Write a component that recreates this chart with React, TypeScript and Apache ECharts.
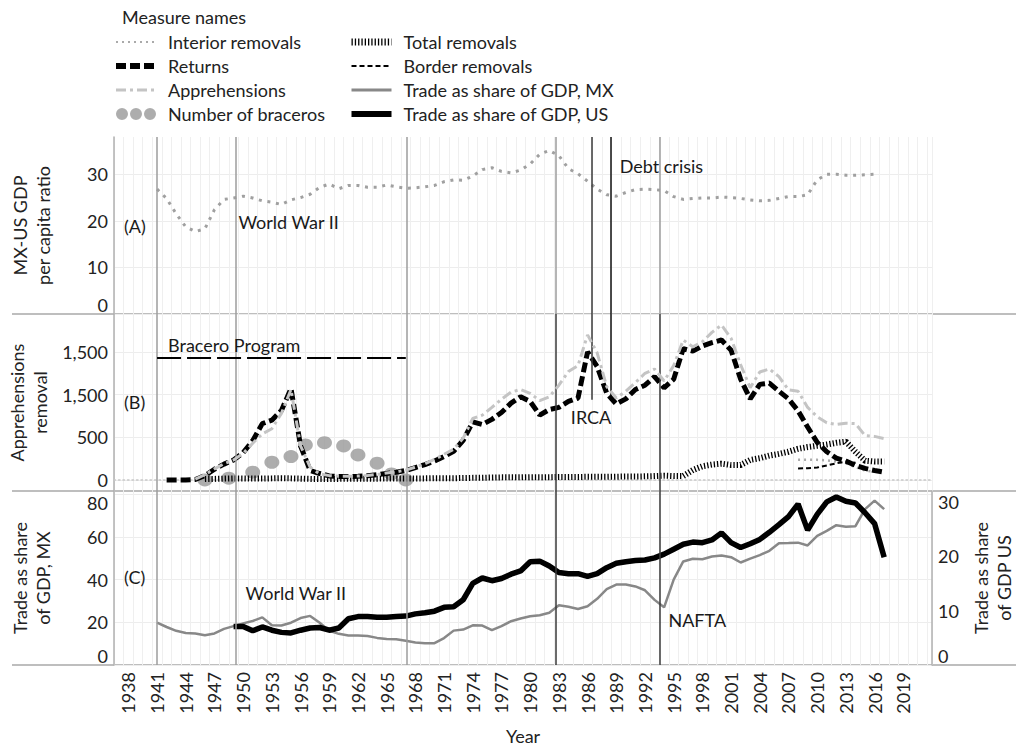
import React, { useEffect, useRef } from "react";
import * as echarts from "echarts";

const FONT = 'Lato, "Open Sans", sans-serif';

// ---------- axis ticks ----------
const tickYears = [1938, 1941, 1944, 1947, 1950, 1953, 1956, 1959, 1962, 1965, 1968, 1971, 1974, 1977, 1980, 1983, 1986, 1989, 1992, 1995, 1998, 2001, 2004, 2007, 2010, 2013, 2016, 2019];
const ticksA = [0, 10, 20, 30];
const ticksB = [0, 500, 1000, 1500];
const tickLabelsB = ["0", "500", "1,500", "1,500"];
const ticksCLeft = [0, 20, 40, 60, 80];
const ticksCRight = [0, 10, 20, 30];

// ---------- panel A: MX-US GDP per capita ratio (from 1941) ----------
const gdpStart = 1941;
const gdpRatio = [26.8, 24.8, 21.5, 18.7, 17.7, 18.3, 22.4, 24.6, 24.9, 25.3, 24.9, 24.3, 24.0, 23.5, 24.5, 25.0, 25.7, 27.2, 27.9, 26.9, 27.6, 27.6, 27.2, 27.2, 27.7, 27.3, 27.0, 27.1, 27.3, 27.6, 28.4, 28.8, 28.7, 29.6, 31.0, 31.4, 30.6, 30.3, 30.9, 32.2, 34.3, 35.1, 34.0, 31.2, 30.1, 28.5, 26.8, 25.6, 25.3, 26.1, 26.7, 26.8, 26.7, 26.5, 25.2, 24.6, 24.8, 24.9, 24.9, 25.1, 25.0, 24.8, 24.5, 24.3, 24.4, 24.8, 25.2, 25.2, 25.6, 28.8, 30.0, 30.0, 29.8, 29.8, 29.9, 30.0];

// ---------- panel B (thousands) ----------
const returnsStart = 1942;
const returns = [0, 0, 0, 5, 50, 125, 185, 234, 320, 460, 660, 700, 815, 1070, 400, 110, 75, 47, 39, 39, 42, 50, 62, 75, 90, 110, 145, 180, 220, 275, 335, 465, 680, 650, 710, 790, 900, 975, 920, 760, 825, 850, 920, 960, 1500, 1330, 1016, 890, 950, 1060, 1110, 1210, 1080, 1180, 1540, 1510, 1570, 1610, 1640, 1520, 1180, 950, 1120, 1135, 1040, 950, 810, 620, 440, 330, 255, 220, 170, 135, 110, 90];

const apprStart = 1945;
const apprehensions = [10, 60, 130, 190, 234, 310, 430, 540, 600, 780, 1060, 400, 150, 70, 50, 42, 42, 45, 52, 64, 80, 95, 115, 150, 190, 240, 300, 360, 490, 720, 760, 850, 945, 1030, 1060, 1015, 930, 975, 1110, 1270, 1340, 1700, 1490, 1094, 960, 1040, 1140, 1250, 1300, 1160, 1340, 1640, 1560, 1620, 1730, 1815, 1660, 1350, 1080, 1265, 1300, 1210, 1055, 1040, 850, 740, 670, 650, 665, 660, 520, 510, 485];

const totalStart = 1946;
const totalRemovals = [10, 12, 15, 18, 18, 16, 16, 18, 20, 18, 15, 12, 10, 10, 12, 14, 15, 15, 15, 16, 17, 18, 18, 18, 20, 20, 20, 22, 24, 25, 28, 30, 30, 30, 32, 32, 32, 34, 34, 35, 36, 36, 36, 38, 40, 40, 42, 45, 50, 45, 45, 115, 160, 180, 190, 175, 175, 234, 255, 285, 305, 330, 365, 385, 400, 415, 435, 449, 330, 225, 215, 215];

const borderStart = 2008;
const borderRemovals = [135, 138, 145, 170, 195, 215, 200];

const interiorStart = 2008;
const interiorRemovals = [235, 235, 235, 230, 215, 195, 150, 110, 95];

const braceroYears = [1946, 1948.5, 1951, 1953, 1955, 1956.5, 1958.5, 1960.5, 1962, 1964, 1965.5, 1967];
const braceros = [0, 20, 90, 207, 273, 410, 437, 398, 293, 196, 70, 0];

// ---------- panel C ----------
const tradeMXStart = 1941;
const tradeMX = [19.9, 17.8, 16.0, 15.0, 14.8, 13.9, 14.8, 16.9, 18.2, 19.5, 20.6, 22.3, 18.6, 18.5, 19.8, 22.0, 23.0, 19.8, 16.0, 14.6, 13.8, 13.8, 13.6, 12.7, 12.2, 12.1, 11.4, 10.5, 10.2, 10.2, 12.6, 16.1, 16.6, 18.6, 18.5, 16.3, 18.2, 20.5, 21.8, 22.8, 23.3, 24.5, 28.0, 27.3, 26.2, 27.5, 31.0, 35.5, 37.7, 37.7, 36.8, 35.0, 30.5, 27.0, 40.0, 48.5, 49.8, 49.5, 50.8, 51.3, 50.5, 48.0, 49.8, 51.5, 53.5, 57.0, 57.1, 57.3, 56.0, 60.5, 62.8, 65.5, 64.8, 65.0, 73.0, 77.0, 73.0];

const tradeUSStart = 1949;
const tradeUS = [7.1, 7.1, 6.3, 7.0, 6.4, 6.0, 5.9, 6.4, 6.8, 6.9, 6.4, 6.8, 8.5, 8.9, 8.9, 8.8, 8.8, 8.9, 9.0, 9.4, 9.6, 9.9, 10.6, 10.7, 12.0, 15.0, 16.0, 15.5, 15.9, 16.7, 17.3, 19.0, 19.1, 18.2, 17.0, 16.8, 16.8, 16.3, 16.8, 17.9, 18.7, 19.0, 19.2, 19.3, 19.7, 20.4, 21.3, 22.2, 22.6, 22.5, 23.0, 24.3, 22.5, 21.6, 22.3, 23.1, 24.4, 25.8, 27.3, 29.6, 24.8, 27.7, 30.0, 30.9, 30.1, 29.8, 28.0, 26.0, 19.8];

// ---------- events (vertical reference lines, years) ----------
const eventWW2Start = 1941;
const eventWW2Label = 1949.25;
const eventBraceroEnd = 1967.1;
const eventDebt = 1982.7;
const eventIRCA = 1986.4;
const eventDebtLabel = 1988.45;
const eventNAFTA = 1993.5;

const GRAY = "#9c9c9c";
const DARK = "#3a3a3a";
const BLACK = "#111111";

function zip(start: number, values: number[]) {
  return values.map((v, i) => [start + i, v]);
}

function vline(x: number, color: string) {
  return { xAxis: x, lineStyle: { color, width: 1.5, type: "solid" } };
}

function note(text: string, x: number, y: number) {
  return {
    coord: [x, y],
    value: text,
    symbol: "circle",
    symbolSize: 1,
    itemStyle: { color: "rgba(0,0,0,0)" },
    label: {
      show: true,
      position: "right",
      distance: 0,
      formatter: text,
      color: "#1a1a1a",
      fontSize: 18,
      fontFamily: FONT,
    },
  };
}

const markLineBase = {
  silent: true,
  symbol: ["none", "none"],
  label: { show: false },
  emphasis: { disabled: true },
  animation: false,
};

const hiddenSymbol = { opacity: 0 };

function App() {
  const ref = useRef<HTMLDivElement>(null);

  useEffect(() => {
    document.body.style.margin = "0";
    if (!ref.current) return;
    const chart = echarts.init(ref.current, null, { renderer: "svg" });

    const xMin = 1936.5;
    const xMax = 2022;
    const splitLine = { show: true, lineStyle: { color: "#efefef", width: 1 } };

    const xAxisBase = (gridIndex: number) => ({
      type: "value",
      gridIndex,
      min: xMin,
      max: xMax,
      interval: 1,
      axisLine: { show: false },
      axisTick: { show: false },
      axisLabel: { show: false },
      splitLine,
    });

    const yLabel = {
      fontSize: 18,
      color: "#222",
      fontFamily: FONT,
      margin: 6,
    };

    const yName = {
      nameLocation: "middle",
      nameRotate: 90,
      nameTextStyle: { fontSize: 18, lineHeight: 23, color: "#222", fontFamily: FONT },
    };

    const legendBase = {
      top: 28,
      orient: "vertical",
      itemWidth: 40,
      itemHeight: 14,
      itemGap: 6,
      selectedMode: false,
      textStyle: { fontSize: 18, color: "#222", fontFamily: FONT, padding: [0, 0, 0, 7] },
    };

    const gridBase = { left: 114, right: 84, outerBoundsMode: "none", containLabel: false };

    const option: any = {
      animation: false,
      textStyle: { fontFamily: FONT },
      title: {
        text: "Measure names",
        left: 117,
        top: 3,
        textStyle: { fontSize: 18, fontWeight: "normal", color: "#222", fontFamily: FONT },
      },
      legend: [
        {
          ...legendBase,
          left: 108,
          data: [
            { name: "Interior removals", itemStyle: hiddenSymbol, lineStyle: { color: "#aaaaaa", width: 2, type: [2, 4] } },
            { name: "Returns", itemStyle: hiddenSymbol, lineStyle: { color: "#000", width: 6, type: [10, 4] } },
            { name: "Apprehensions", itemStyle: hiddenSymbol, lineStyle: { color: "#c4c4c4", width: 3, type: [10, 4, 3, 4] } },
            {
              name: "Number of braceros",
              icon: "path://M0 6a6 6 0 1 0 12 0a6 6 0 1 0-12 0zM14 6a6 6 0 1 0 12 0a6 6 0 1 0-12 0zM28 6a6 6 0 1 0 12 0a6 6 0 1 0-12 0z",
              itemStyle: { color: "#999999" },
            },
          ],
        },
        {
          ...legendBase,
          left: 343,
          data: [
            { name: "Total removals", itemStyle: hiddenSymbol, lineStyle: { color: "#000", width: 7, type: [1.3, 2] } },
            { name: "Border removals", itemStyle: hiddenSymbol, lineStyle: { color: "#000", width: 2, type: [5, 3] } },
            { name: "Trade as share of GDP, MX", itemStyle: hiddenSymbol, lineStyle: { color: "#888", width: 3, type: "solid" } },
            { name: "Trade as share of GDP, US", itemStyle: hiddenSymbol, lineStyle: { color: "#000", width: 6, type: "solid" } },
          ],
        },
      ],
      grid: [
        { ...gridBase, top: 137, height: 177 },
        { ...gridBase, top: 314, height: 177 },
        { ...gridBase, top: 491, height: 174 },
      ],
      xAxis: [
        xAxisBase(0),
        {
          ...xAxisBase(1),
          axisLine: { show: true, onZero: true, lineStyle: { color: "#c8c8c8", width: 1.5, type: [1.5, 3] } },
        },
        {
          ...xAxisBase(2),
          axisLabel: {
            show: true,
            customValues: tickYears,
            formatter: (v: number) => String(v),
            rotate: 90,
            fontSize: 18,
            color: "#222",
            fontFamily: FONT,
            margin: 7,
          },
          name: "Year",
          nameLocation: "middle",
          nameGap: 62,
          nameTextStyle: { fontSize: 18, color: "#222", fontFamily: FONT },
        },
      ],
      yAxis: [
        {
          type: "value",
          gridIndex: 0,
          min: 0,
          max: 38,
          axisLine: { show: true, lineStyle: { color: "#b0b0b0", width: 1.5 } },
          axisTick: { show: false, customValues: ticksA },
          axisLabel: { ...yLabel, customValues: ticksA, verticalAlignMinLabel: "bottom" },
          splitLine: { show: true, lineStyle: { color: "#ededed" } },
          name: "MX-US GDP\nper capita ratio",
          nameGap: 60,
          ...yName,
        },
        {
          type: "value",
          gridIndex: 1,
          min: -130,
          max: 1945,
          axisLine: { show: true, lineStyle: { color: "#b0b0b0", width: 1.5 } },
          axisTick: { show: false, customValues: ticksB },
          axisLabel: {
            ...yLabel,
            customValues: ticksB,
            formatter: (v: number) => tickLabelsB[ticksB.indexOf(v)] ?? String(v),
          },
          splitLine: { show: true, lineStyle: { color: "#ededed" } },
          name: "Apprehensions\nremoval",
          nameGap: 60,
          ...yName,
        },
        {
          type: "value",
          gridIndex: 2,
          min: 0,
          max: 81.5,
          axisLine: { show: true, lineStyle: { color: "#b0b0b0", width: 1.5 } },
          axisTick: { show: false, customValues: ticksCLeft },
          axisLabel: { ...yLabel, customValues: ticksCLeft, verticalAlignMinLabel: "bottom", verticalAlignMaxLabel: "top" },
          splitLine: { show: true, lineStyle: { color: "#ededed" } },
          name: "Trade as share\nof GDP, MX",
          nameGap: 60,
          ...yName,
        },
        {
          type: "value",
          gridIndex: 2,
          position: "right",
          min: 0,
          max: 32,
          axisLine: { show: true, lineStyle: { color: "#b0b0b0", width: 1.5 } },
          axisTick: { show: false, customValues: ticksCRight },
          axisLabel: { ...yLabel, customValues: ticksCRight, verticalAlignMinLabel: "bottom" },
          splitLine: { show: false },
          name: "Trade as share\nof GDP US",
          nameGap: 14,
          ...yName,
        },
      ],
      graphic: [
        { type: "line", shape: { x1: 12, y1: 314, x2: 1016, y2: 314 }, style: { stroke: "#a8a8a8", lineWidth: 1.5 }, silent: true },
        { type: "line", shape: { x1: 12, y1: 491, x2: 1016, y2: 491 }, style: { stroke: "#a8a8a8", lineWidth: 1.5 }, silent: true },
        { type: "line", shape: { x1: 12, y1: 665, x2: 1016, y2: 665 }, style: { stroke: "#a8a8a8", lineWidth: 1.5 }, silent: true },
      ],
      series: [
        {
          name: "MX-US GDP per capita ratio",
          type: "line",
          xAxisIndex: 0,
          yAxisIndex: 0,
          symbol: "none",
          data: zip(gdpStart, gdpRatio),
          lineStyle: { color: "#a0a0a0", width: 3, type: [3, 5.7] },
          markLine: {
            ...markLineBase,
            data: [
              vline(eventWW2Start, GRAY),
              vline(eventWW2Label, GRAY),
              vline(eventBraceroEnd, GRAY),
              vline(eventDebt, GRAY),
              vline(eventIRCA, DARK),
              vline(eventDebtLabel, BLACK),
              vline(eventNAFTA, GRAY),
            ],
          },
          markPoint: {
            silent: true,
            data: [
              note("(A)", 1937.5, 18.9),
              note("World War II", 1949.45, 19.7),
              note("Debt crisis", 1989.3, 31.8),
            ],
          },
        },
        {
          name: "Number of braceros",
          type: "scatter",
          xAxisIndex: 1,
          yAxisIndex: 1,
          symbol: "circle",
          symbolSize: [15, 13],
          itemStyle: { color: "#999999" },
          data: braceroYears.map((y, i) => [y, braceros[i]]),
          z: 1,
        },
        {
          name: "Interior removals",
          type: "line",
          xAxisIndex: 1,
          yAxisIndex: 1,
          symbol: "none",
          data: zip(interiorStart, interiorRemovals),
          lineStyle: { color: "#aaaaaa", width: 2.5, type: [2, 4] },
          z: 2,
        },
        {
          name: "Total removals",
          type: "line",
          xAxisIndex: 1,
          yAxisIndex: 1,
          symbol: "none",
          data: zip(totalStart, totalRemovals),
          lineStyle: { color: "#000", width: 6, type: [1.3, 2] },
          z: 3,
        },
        {
          name: "Border removals",
          type: "line",
          xAxisIndex: 1,
          yAxisIndex: 1,
          symbol: "none",
          data: zip(borderStart, borderRemovals),
          lineStyle: { color: "#000", width: 2, type: [5, 3] },
          z: 3,
        },
        {
          name: "Returns",
          type: "line",
          xAxisIndex: 1,
          yAxisIndex: 1,
          symbol: "none",
          data: zip(returnsStart, returns),
          lineStyle: { color: "#000", width: 5, type: [10, 4] },
          z: 4,
          markLine: {
            ...markLineBase,
            data: [
              vline(eventWW2Start, GRAY),
              vline(eventWW2Label, GRAY),
              vline(eventBraceroEnd, GRAY),
              vline(eventDebt, DARK),
              [
                { coord: [eventIRCA, 1945], lineStyle: { color: DARK, width: 1.5, type: "solid" } },
                { coord: [eventIRCA, 940] },
              ],
              [
                { coord: [eventDebtLabel, 1945], lineStyle: { color: BLACK, width: 1.5, type: "solid" } },
                { coord: [eventDebtLabel, 980] },
              ],
              vline(eventNAFTA, DARK),
              [
                { coord: [1941, 1430], lineStyle: { color: "#000", width: 2, type: [24, 6] } },
                { coord: [1967, 1430] },
              ],
            ],
          },
          markPoint: {
            silent: true,
            data: [
              note("(B)", 1937.5, 914),
              note("Bracero Program", 1942.1, 1583),
              note("IRCA", 1984.2, 739),
            ],
          },
        },
        {
          name: "Apprehensions",
          type: "line",
          xAxisIndex: 1,
          yAxisIndex: 1,
          symbol: "none",
          data: zip(apprStart, apprehensions),
          lineStyle: { color: "#c4c4c4", width: 3, type: [10, 4, 3, 4] },
          z: 5,
        },
        {
          name: "Trade as share of GDP, MX",
          type: "line",
          xAxisIndex: 2,
          yAxisIndex: 2,
          symbol: "none",
          data: zip(tradeMXStart, tradeMX),
          lineStyle: { color: "#888888", width: 2.5 },
          markLine: {
            ...markLineBase,
            data: [
              vline(eventWW2Start, GRAY),
              vline(eventWW2Label, GRAY),
              vline(eventBraceroEnd, GRAY),
              vline(eventDebt, DARK),
              vline(eventNAFTA, DARK),
            ],
          },
          markPoint: {
            silent: true,
            data: [
              note("(C)", 1937.5, 41),
              note("World War II", 1950.2, 33.7),
              note("NAFTA", 1994.4, 21.2),
            ],
          },
        },
        {
          name: "Trade as share of GDP, US",
          type: "line",
          xAxisIndex: 2,
          yAxisIndex: 3,
          symbol: "none",
          data: zip(tradeUSStart, tradeUS),
          lineStyle: { color: "#000", width: 5.5 },
          z: 4,
        },
      ],
    };

    chart.setOption(option);
    return () => chart.dispose();
  }, []);

  return <div ref={ref} style={{ width: 1016, height: 750 }} />;
}

export default App;
